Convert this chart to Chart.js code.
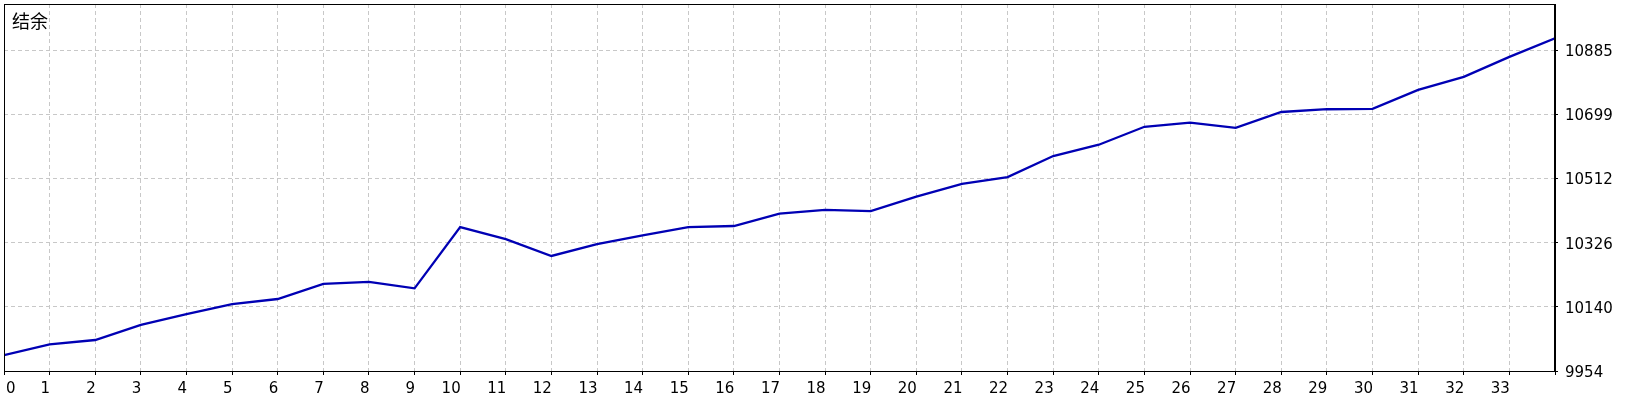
<!DOCTYPE html>
<html>
<head>
<meta charset="utf-8">
<script src="https://cdn.jsdelivr.net/npm/chart.js@4.4.0/dist/chart.umd.min.js"></script>
<style>
  html, body { margin: 0; padding: 0; background: #fff; }
  #wrap { width: 1640px; height: 400px; }
</style>
</head>
<body>
<div id="wrap"><canvas id="chart"></canvas></div>
<script>
const titel = "结余";
const tradeNr = [0, 1, 2, 3, 4, 5, 6, 7, 8, 9, 10, 11, 12, 13, 14, 15, 16, 17,
  18, 19, 20, 21, 22, 23, 24, 25, 26, 27, 28, 29, 30, 31, 32, 33, 34];
const balance = [10000, 10031, 10044, 10088, 10119, 10148, 10163, 10207, 10213, 10194,
  10372, 10337, 10288, 10322, 10348, 10372, 10375, 10411, 10422, 10418,
  10460, 10497, 10517, 10578, 10611, 10663, 10675, 10660, 10706, 10714,
  10715, 10770, 10808, 10866, 10920];
const yTickValues = [9954, 10140.2, 10326.4, 10512.6, 10698.8, 10885];
const yTickLabels = ["9954", "10140", "10326", "10512", "10699", "10885"];
const xTickLabels = ["0", "1", "2", "3", "4", "5", "6", "7", "8", "9", "10", "11",
  "12", "13", "14", "15", "16", "17", "18", "19", "20", "21", "22", "23", "24",
  "25", "26", "27", "28", "29", "30", "31", "32", "33"];
const yMin = 9954, yMax = 11019.5;

const schrift = "15px 'DejaVu Sans'";

// Rahmen, Titel und x-Beschriftung (MT4-Stil: rechtsbündig am Tick, erste linksbündig)
const extras = {
  id: "extras",
  afterDraw(chart) {
    const ctx = chart.ctx;
    const a = chart.chartArea;
    ctx.save();
    ctx.strokeStyle = "#000";
    ctx.lineWidth = 1;
    ctx.strokeRect(Math.round(a.left) + 0.5, Math.round(a.top) + 0.5,
      Math.round(a.right - a.left) - 1, Math.round(a.bottom - a.top));

    ctx.fillStyle = "#000";
    ctx.font = "18px 'Noto Sans CJK SC'";
    ctx.textBaseline = "alphabetic";
    ctx.textAlign = "left";
    ctx.fillText(titel, 12, 28);

    const xs = chart.scales.x;
    ctx.font = schrift;
    xTickLabels.forEach((lbl, i) => {
      const px = xs.getPixelForValue(i);
      if (i === 0) {
        ctx.textAlign = "left";
        ctx.fillText(lbl, px + 2, 392.5);
      } else {
        ctx.textAlign = "right";
        ctx.fillText(lbl, px + 0.5, 392.5);
      }
    });
    ctx.restore();
  }
};

new Chart(document.getElementById("chart"), {
  type: "line",
  data: {
    datasets: [{
      data: tradeNr.map((x, i) => ({ x: x, y: balance[i] })),
      borderColor: "#0000b4",
      borderWidth: 2.3,
      pointRadius: 0,
      tension: 0,
      fill: false
    }]
  },
  options: {
    responsive: true,
    maintainAspectRatio: false,
    animation: false,
    layout: { padding: { top: 4, left: 4, right: 0, bottom: 0 } },
    plugins: { legend: { display: false }, tooltip: { enabled: false } },
    scales: {
      x: {
        type: "linear",
        min: 0,
        max: 34,
        afterFit: s => { s.height = 29; s.paddingLeft = 0; s.paddingRight = 0; },
        ticks: { stepSize: 1, display: false },
        grid: { color: "#c8c8c8", tickColor: "#000", tickLength: 4 },
        border: { color: "#000", dash: [4, 3] }
      },
      y: {
        position: "right",
        min: yMin,
        max: yMax,
        afterFit: s => { s.width = 85; s.paddingTop = 0; s.paddingBottom = 0; },
        afterBuildTicks: s => { s.ticks = yTickValues.map(v => ({ value: v })); },
        ticks: {
          callback: (v, i) => yTickLabels[i],
          font: { family: "DejaVu Sans", size: 15 },
          color: "#000",
          padding: 7,
          labelOffset: 2
        },
        grid: { color: "#c8c8c8", tickColor: "#000", tickLength: 3 },
        border: { color: "#000", dash: [4, 3] }
      }
    }
  },
  plugins: [extras]
});
</script>
</body>
</html>
